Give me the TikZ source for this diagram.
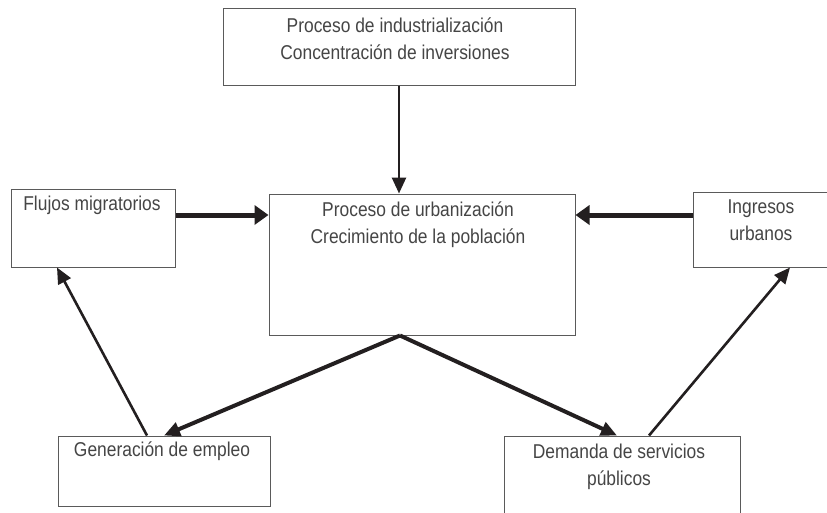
\documentclass[tikz,border=0pt]{standalone}
\usepackage{fontspec}
\setmainfont{Liberation Sans}[FakeStretch=0.87]
\usetikzlibrary{arrows.meta}
\definecolor{txt}{HTML}{454545}
\definecolor{frame}{HTML}{5A5A5A}
\definecolor{arr}{HTML}{231F20}
\begin{document}
\begin{tikzpicture}[x=1pt,y=-1pt,
  box/.style={draw=frame,line width=1pt,rectangle,inner sep=0pt,fill=none},
  lbl/.style={anchor=north,inner sep=0pt,text=txt,align=center,font=\fontsize{20}{27}\selectfont},
  arrA/.style={draw=arr,line width=#1,-{Triangle[length=16pt,width=14pt]}},
  arrA/.default=3pt
]
\useasboundingbox (0,0) rectangle (827,512);
\fill[white] (0,0) rectangle (827,512);

\node[box,minimum width=352pt,minimum height=77pt,
  label={[lbl,yshift=-10pt,xshift=-4pt]north:Proceso de industrialización\\Concentración de inversiones}] (top) at (399,46.5) {};
\node[box,minimum width=306pt,minimum height=141pt,
  label={[lbl,yshift=-8pt,xshift=-4pt]north:Proceso de urbanización\\Crecimiento de la población}] (cen) at (422,264.5) {};
\node[box,minimum width=164pt,minimum height=78pt,
  label={[lbl,yshift=-7pt,xshift=-1pt]north:Flujos migratorios}] (flu) at (93,228) {};
\node[box,minimum width=142pt,minimum height=75pt,
  label={[lbl,yshift=-8pt,xshift=-3pt]north:Ingresos\\urbanos}] (ing) at (764,229.5) {};
\node[box,minimum width=212pt,minimum height=70pt,
  label={[lbl,yshift=-6pt,xshift=-2pt]north:Generación de empleo}] (gen) at (164,471) {};
\node[box,minimum width=236pt,minimum height=80pt,
  label={[lbl,yshift=-8pt,xshift=-3pt]north:Demanda de servicios\\públicos}] (dem) at (622,476) {};

\coordinate (apex) at ([xshift=-22pt]cen.south);

\draw[arrA=2.6pt] (top.south) -- (top.south |- cen.north);
\draw[draw=arr,line width=5pt,-{Triangle[length=14pt,width=19pt]}] ([yshift=13pt]flu.east) -- ([yshift=13pt]flu.east -| cen.west);
\draw[draw=arr,line width=5pt,-{Triangle[length=14pt,width=19pt]}] ([yshift=14.5pt]ing.west) -- ([yshift=14.5pt]ing.west -| cen.east);
\draw[arrA=4pt,line join=miter] (apex) -- (gen.north);
\draw[arrA=4pt,line join=miter] (apex) -- ([xshift=-5pt]dem.north);
\draw[arrA=2.6pt] ([xshift=-17pt]gen.north) -- ([xshift=-36pt]flu.south);
\draw[arrA=2.6pt] ([xshift=27pt]dem.north) -- ([xshift=26pt]ing.south);
\end{tikzpicture}
\end{document}
